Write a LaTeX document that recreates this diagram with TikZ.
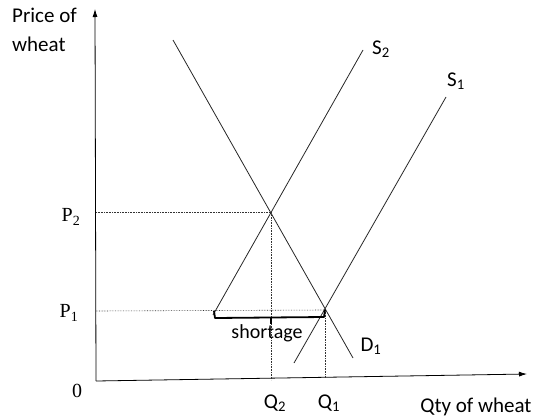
\documentclass[tikz,border=0pt]{standalone}
\usepackage{fontspec}
\setmainfont{Carlito}
\newfontfamily\serfont{Liberation Serif}
\usetikzlibrary{arrows.meta}
\begin{document}
\begin{tikzpicture}[x=1pt,y=-1pt,
  lbl/.style={font=\fontsize{21}{29}\selectfont, inner sep=0pt},
  slbl/.style={font=\serfont\fontsize{20}{22}\selectfont, inner sep=0pt},
  curve/.style={draw=black!85, line width=0.8pt},
  guide/.style={draw=black!80, densely dotted, line width=0.6pt},
  axis/.style={draw=black, line width=0.8pt, -{Latex[length=8pt,width=5pt]}}]
\useasboundingbox (0,0) rectangle (538,418);
% axes
\coordinate (O) at (96,381);
\coordinate (ytop) at (95,9);
\coordinate (xend) at (527,374);
\draw[axis] (O) -- (ytop);
\draw[axis] (O) -- (xend);
% key points
\coordinate (E2) at (271,212);
\coordinate (E1) at (325,310);
% curves
\coordinate (Dt) at (173,40);
\coordinate (Db) at (353,358);
\coordinate (S2b) at (213,315);
\coordinate (S2t) at (363,50);
\coordinate (S1b) at (294,363);
\coordinate (S1t) at (446,97);
\draw[curve] (Dt) -- (Db);
\draw[curve] (S2b) -- (S2t);
\draw[curve] (S1b) -- (S1t);
% guides
\coordinate (yP2) at (96,212);
\coordinate (yP1) at (96,311);
\coordinate (xQ2) at (271,380);
\coordinate (xQ1) at (325,378);
\draw[guide] (yP2) -- (E2);
\draw[guide] (yP1) -- (E1);
\draw[guide] (E2) -- (xQ2);
\draw[guide] (E1) -- (xQ1);
% shortage bracket
\coordinate (Bl) at (215,318);
\coordinate (Br) at (324,317);
\coordinate (Bm) at (271,318);
\coordinate (Blt) at (214,311);
\coordinate (Brt) at (325,310);
\coordinate (Bmt) at (271,324);
\draw[line width=1.8pt, line join=round] (Blt) -- (Bl) -- (Br) -- (Brt);
\draw[line width=1.8pt] (Bm) -- (Bmt);
% labels
\node[lbl, anchor=north west, align=left] (py) at (12,8) {Price of\\wheat};
\node[slbl] (zero) at (77,391) {0};
\node[slbl] (p2) at (71,217) {P\textsubscript{2}};
\node[slbl] (p1) at (69,313) {P\textsubscript{1}};
\node[lbl] (q2) at (275,403) {Q\textsubscript{2}};
\node[lbl] (q1) at (329,403) {Q\textsubscript{1}};
\node[lbl] (qx) at (476,407) {Qty of wheat};
\node[lbl] (s2) at (381,49) {S\textsubscript{2}};
\node[lbl] (s1) at (456,81) {S\textsubscript{1}};
\node[lbl] (d1) at (371,346) {D\textsubscript{1}};
\node[lbl, font=\fontsize{20}{22}\selectfont] (sh) at (267,333) {shortage};
\end{tikzpicture}
\end{document}
